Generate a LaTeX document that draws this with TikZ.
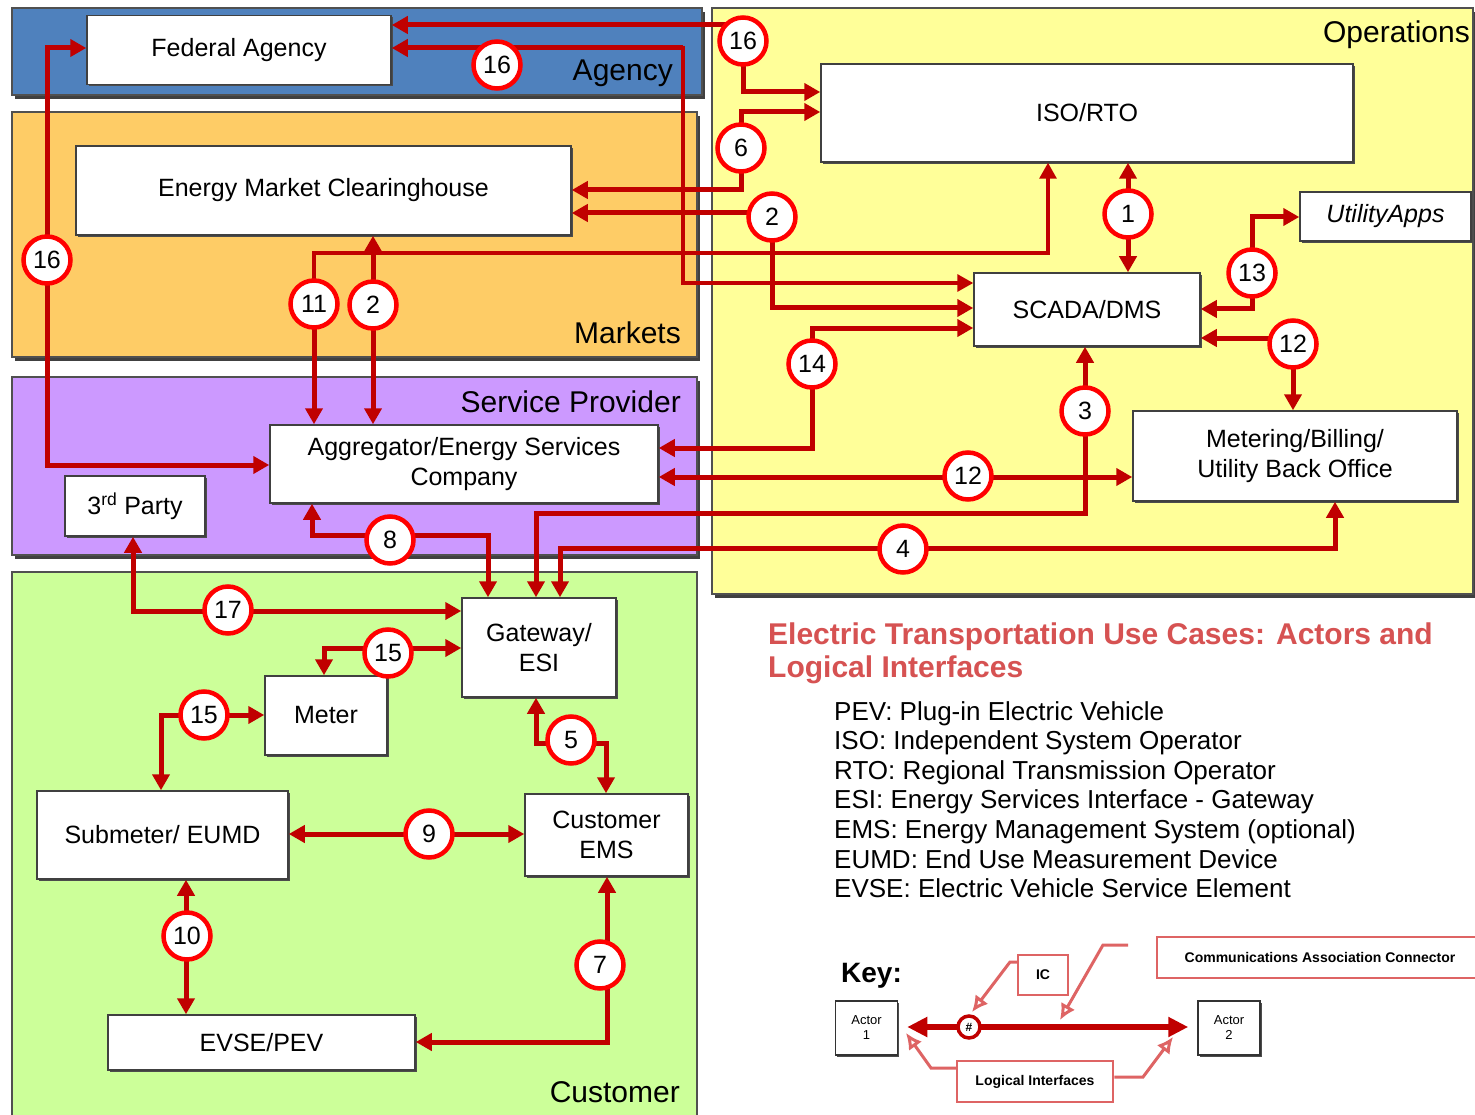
\documentclass[tikz,border=0pt]{standalone}
\usepackage{fontspec}
\setmainfont{Liberation Sans}
\usetikzlibrary{arrows.meta,shadows}
\definecolor{agencyblue}{RGB}{79,129,189}
\definecolor{marketorange}{RGB}{254,204,102}
\definecolor{spurple}{RGB}{204,153,255}
\definecolor{custgreen}{RGB}{204,255,153}
\definecolor{opsyellow}{RGB}{255,255,153}
\definecolor{connred}{RGB}{192,0,0}
\definecolor{circred}{RGB}{255,0,0}
\definecolor{titlered}{RGB}{214,82,82}
\definecolor{keyred}{RGB}{222,100,100}
\definecolor{panelline}{RGB}{80,80,80}
\newcommand\bxf{\fontsize{25}{30}\selectfont}
\newcommand\plf{\fontsize{30}{34}\selectfont}
\begin{document}
\begin{tikzpicture}[x=1pt,y=-1pt,
  >={Triangle[length=16pt,width=17pt]},
  panel/.style={draw=panelline,line width=1.5pt},
  pshadow/.style={fill=black!75},
  plabel/.style={anchor=base east,inner sep=0pt,font=\plf},
  box/.style={draw=black!75,line width=1.5pt,fill=white,align=center,inner sep=0pt,font=\bxf,
    drop shadow={shadow xshift=1.5pt,shadow yshift=-2pt,fill=black!70,opacity=1}},
  circ/.style={circle,draw=circred,line width=4.5pt,fill=white,minimum size=47pt,inner sep=0pt,font=\fontsize{25}{25}\selectfont},
  conn/.style={draw=connred,line width=5pt},
  thinconn/.style={draw=connred,line width=3.2pt},
  gloss/.style={anchor=base west,inner sep=0pt,font=\fontsize{26}{30}\selectfont},
  keybox/.style={draw=black!80,line width=1.5pt,fill=white,align=center,inner sep=0pt,minimum width=62pt,minimum height=54pt,font=\fontsize{13}{15}\selectfont,
    drop shadow={shadow xshift=1.5pt,shadow yshift=-2pt,fill=black!70,opacity=1}},
  redbox/.style={draw=keyred,line width=2.5pt,fill=white,inner sep=0pt,font=\bfseries\fontsize{14}{16}\selectfont},
  pointer/.style={draw=keyred,line width=3pt,-{Latex[open,length=16pt,width=16pt]}},
]
\useasboundingbox (0,0) rectangle (1475,1115);
\fill[white] (0,0) rectangle (1475,1115);

% ---------------- panels ----------------
\fill[pshadow] (15,12) rectangle (705,99);
\draw[panel,fill=agencyblue] (12,8) rectangle (702,95);
\fill[pshadow] (15,116) rectangle (700,361);
\draw[panel,fill=marketorange] (12,112) rectangle (697,357);
\fill[pshadow] (15,381) rectangle (700,559);
\draw[panel,fill=spurple] (12,377) rectangle (697,555);
\draw[panel,fill=custgreen] (12,572) rectangle (697,1125);
\fill[pshadow] (715,12) rectangle (1476,598);
\draw[panel,fill=opsyellow] (712,8) rectangle (1473,594);

\node[plabel] (lagency) at (673,80.5) {Agency};
\node[plabel] (lmarkets) at (681,343) {Markets};
\node[plabel] (lsp) at (681,412) {Service Provider};
\node[plabel] (lcust) at (680,1102) {Customer};
\node[plabel] (lops) at (1470,42.5) {Operations};

% ---------------- boxes ----------------
\node[box,minimum width=304pt,minimum height=69pt] (fed) at (239,50) {Federal Agency};
\node[box,minimum width=495pt,minimum height=89pt] (emc) at (323.5,190.5) {Energy Market Clearinghouse};
\node[box,minimum width=388pt,minimum height=78pt] (agg) at (464,464) {Aggregator/Energy Services\\Company};
\node[box,minimum width=140pt,minimum height=60pt] (third) at (135,506) {3\textsuperscript{rd} Party};
\node[box,minimum width=154pt,minimum height=99pt] (gw) at (539,647.5) {Gateway/\\ESI};
\node[box,minimum width=122pt,minimum height=79pt] (meter) at (326,715.5) {Meter};
\node[box,minimum width=251pt,minimum height=88pt] (sub) at (162.5,835) {Submeter/ EUMD};
\node[box,minimum width=163pt,minimum height=82pt] (ems) at (606.5,835) {Customer\\EMS};
\node[box,minimum width=307pt,minimum height=55pt] (evse) at (261.5,1042.5) {EVSE/PEV};
\node[box,minimum width=532pt,minimum height=98pt] (iso) at (1087,113) {ISO/RTO};
\node[box,minimum width=226pt,minimum height=73pt] (scada) at (1087,309.5) {SCADA/DMS};
\node[box,minimum width=171pt,minimum height=49pt] (apps) at (1385.5,216.5) {\itshape UtilityApps};
\node[box,minimum width=324pt,minimum height=90pt] (mbo) at (1295,456) {Metering/Billing/\\Utility Back Office};

% ---------------- circle positions ----------------
\coordinate (p16a) at (743,41);
\coordinate (p16b) at (497,65);
\coordinate (p16c) at (47,260);
\coordinate (p6) at (741,148);
\coordinate (p2a) at (772,217);
\coordinate (p2b) at (373,305);
\coordinate (p11) at (314,304);
\coordinate (p1) at (1128,214);
\coordinate (p13) at (1252,273);
\coordinate (p12a) at (1293,344);
\coordinate (p14) at (812,364);
\coordinate (p3) at (1085,411);
\coordinate (p12b) at (968,476);
\coordinate (p4) at (903,549);
\coordinate (p8) at (390,540);
\coordinate (p17) at (228,610);
\coordinate (p15a) at (388,653);
\coordinate (p15b) at (204,715);
\coordinate (p5) at (571,740);
\coordinate (p9) at (429,834);
\coordinate (p10) at (187,936);
\coordinate (p7) at (600,965);

% ---------------- connectors ----------------
% 16 (top)
\draw[conn,->] (p16a |- 0,25) -- (fed.east |- 0,25);
\draw[conn,->] (p16a) |- (iso.west |- 0,92);
% 6
\draw[conn,->] (p6) |- (iso.west |- 0,112);
\draw[conn,->] (p6) |- (emc.east |- 0,190);
% 2 (upper)
\draw[conn,->] (p2a |- 0,213) -- (emc.east |- 0,213);
\draw[conn,->] (p2a) |- (scada.west |- 0,308);
% 16 (agency)
\draw[conn,->] (683,48) -- (fed.east |- 0,48);
\draw[thinconn,->] (683,46) -- (683,283) -- (scada.west |- 0,283);
% 16 (left)
\draw[conn,<->] (fed.west |- 0,48) -| (p16c) |- (agg.west |- 0,465);
% 11
\draw[thinconn,->] (p11) |- (1048,253) -- (1048,0 |- iso.south);
\draw[conn,->] (p11) -- (p11 |- agg.north);
% 2 (lower)
\draw[conn,->] (p2b) -- (p2b |- emc.south);
\draw[conn,->] (p2b) -- (p2b |- agg.north);
% 1
\draw[conn,->] (p1) -- (p1 |- iso.south);
\draw[conn,->] (p1) -- (p1 |- scada.north);
% 13
\draw[conn,->] (p13) |- (apps.west |- 0,217);
\draw[conn,->] (p13) |- (scada.east |- 0,309);
% 12 (upper)
\draw[conn,->] (p12a |- 0,338) -- (scada.east |- 0,338);
\draw[conn,->] (p12a) -- (p12a |- mbo.north);
% 14
\draw[conn,->] (p14) |- (scada.west |- 0,328);
\draw[conn,->] (p14) |- (agg.east |- 0,448);
% 12 (lower)
\draw[conn,<->] (agg.east |- 0,477) -- (mbo.west |- 0,477);
% 3
\draw[conn,->] (p3) -- (p3 |- scada.south);
\draw[conn,->] (p3) |- (536,513) -- (536,0 |- gw.north);
% 4
\draw[conn,<->] (560,0 |- gw.north) |- (1335,548) -- (1335,0 |- mbo.south);
% 8
\draw[conn,<->] (312,0 |- agg.south) |- (488,535) -- (488,0 |- gw.north);
% 17
\draw[conn,<->] (133,0 |- third.south) |- (gw.west |- 0,611);
% 15 (upper)
\draw[conn,<->] (324,0 |- meter.north) |- (gw.west |- 0,648);
% 15 (lower)
\draw[conn,<->] (161,0 |- sub.north) |- (meter.west |- 0,715);
% 5
\draw[conn,<->] (536,0 |- gw.south) |- (606,743) -- (606,0 |- ems.north);
% 9
\draw[conn,<->] (sub.east |- 0,834) -- (ems.west |- 0,834);
% 10
\draw[conn,<->] (186,0 |- sub.south) -- (186,0 |- evse.north);
% 7
\draw[conn,<->] (607,0 |- ems.south) |- (evse.east |- 0,1042);

% ---------------- circles ----------------
\node[circ] (c16a) at (p16a) {16};
\node[circ] (c16b) at (p16b) {16};
\node[circ] (c16c) at (p16c) {16};
\node[circ] (c6) at (p6) {6};
\node[circ] (c2a) at (p2a) {2};
\node[circ] (c2b) at (p2b) {2};
\node[circ] (c11) at (p11) {11};
\node[circ] (c1) at (p1) {1};
\node[circ] (c13) at (p13) {13};
\node[circ] (c12a) at (p12a) {12};
\node[circ] (c14) at (p14) {14};
\node[circ] (c3) at (p3) {3};
\node[circ] (c12b) at (p12b) {12};
\node[circ] (c4) at (p4) {4};
\node[circ] (c8) at (p8) {8};
\node[circ] (c17) at (p17) {17};
\node[circ] (c15a) at (p15a) {15};
\node[circ] (c15b) at (p15b) {15};
\node[circ] (c5) at (p5) {5};
\node[circ] (c9) at (p9) {9};
\node[circ] (c10) at (p10) {10};
\node[circ] (c7) at (p7) {7};

% ---------------- title and glossary ----------------
\node[anchor=base west,inner sep=0pt,text=titlered,font=\bfseries\fontsize{30}{33}\selectfont] (t1) at (768,644) {Electric Transportation Use Cases: Actors and};
\node[anchor=base west,inner sep=0pt,text=titlered,font=\bfseries\fontsize{30}{33}\selectfont] (t2) at (768,677) {Logical Interfaces};
\foreach \t [count=\i] in {PEV: Plug-in Electric Vehicle,ISO: Independent System Operator,RTO: Regional Transmission Operator,ESI: Energy Services Interface - Gateway,EMS: Energy Management System (optional),EUMD: End Use Measurement Device,EVSE: Electric Vehicle Service Element}
  \node[gloss] (g\i) at (834,{720+29.6*(\i-1)}) {\t};

% ---------------- key ----------------
\node[anchor=base west,inner sep=0pt,font=\bfseries\fontsize{28}{30}\selectfont] (keylbl) at (841,982) {Key:};
\node[keybox] (a1) at (866.5,1028) {Actor\\1};
\node[keybox] (a2) at (1229,1028) {Actor\\2};
\draw[draw=connred,line width=6.5pt,{Triangle[length=20pt,width=19pt]}-{Triangle[length=20pt,width=19pt]},shorten <=9pt,shorten >=9pt] (a1.east |- 0,1027) -- (a2.west |- 0,1027);
\node[circle,draw=connred,line width=3.5pt,fill=white,minimum size=22pt,inner sep=0pt,font=\bfseries\fontsize{12}{12}\selectfont] (kc) at (969,1027) {\#};
\node[redbox,minimum width=50pt,minimum height=40pt] (ic) at (1043,975) {IC};
\node[redbox,minimum width=326pt,minimum height=41pt] (comm) at (1320,957.5) {Communications Association Connector};
\node[redbox,minimum width=156pt,minimum height=41pt] (li) at (1035,1081.5) {Logical Interfaces};
\coordinate (k1) at (972,1012);
\coordinate (k2s) at (1128,945);
\coordinate (k2) at (1060,1020);
\coordinate (k3) at (906,1033);
\coordinate (k4) at (1173,1037);
\draw[pointer] (ic.west |- 0,962) -- (1010,962) -- (k1);
\draw[pointer] (k2s) -- (1103,945) -- (k2);
\draw[pointer] (li.west |- 0,1068) -- (931,1068) -- (k3);
\draw[pointer] (li.east |- 0,1077) -- (1143,1077) -- (k4);
\end{tikzpicture}
\end{document}
